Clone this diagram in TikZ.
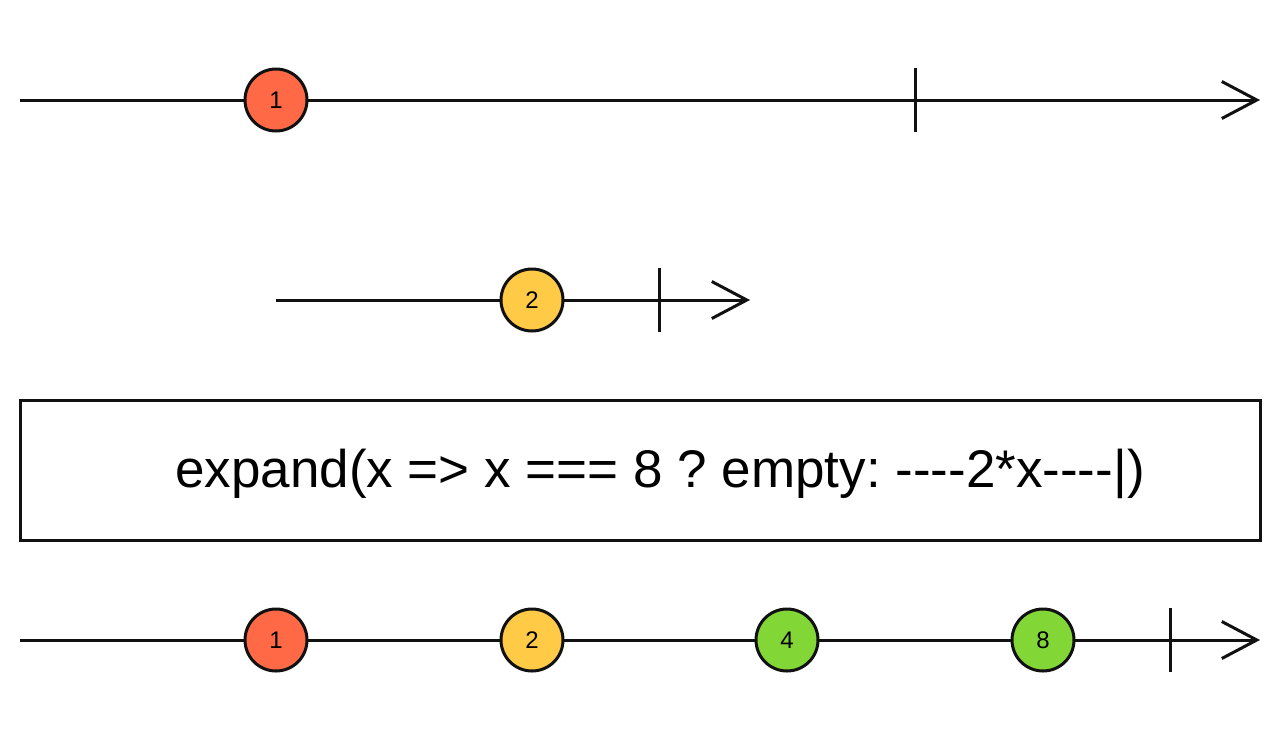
\documentclass[tikz,border=0pt]{standalone}
\usepackage{fontspec}
\setmainfont{Liberation Sans}[Ligatures=TeXOff]
\usetikzlibrary{arrows.meta}
\definecolor{mred}{HTML}{FF6946}
\definecolor{myel}{HTML}{FFCB46}
\definecolor{mgrn}{HTML}{82D736}
\definecolor{ink}{HTML}{111111}
\tikzset{
  timeline/.style={draw=ink, line width=3pt, -{Straight Barb[length=35pt,width=37pt,line width=3pt]}},
  marble/.style={circle, draw=ink, line width=3pt, minimum size=62pt, inner sep=0pt, font=\fontsize{24}{26}\selectfont},
  endmark/.style={draw=ink, line width=3pt},
  opbox/.style={draw=ink, line width=3pt, minimum width=1240pt, minimum height=140pt, inner sep=0pt}
}
\begin{document}
\frenchspacing
\begin{tikzpicture}[x=1pt,y=-1pt]
\useasboundingbox (0,0) rectangle (1280,740);
% line 1
\coordinate (s1) at (20,100);
\coordinate (e1) at (1260,100);
\draw[timeline] (s1) -- (e1);
\coordinate (t1a) at (915,68);
\coordinate (t1b) at (915,132);
\draw[endmark] (t1a) -- (t1b);
\node[marble, fill=mred] (a1) at (276,100) {1};
% line 2
\coordinate (s2) at (276,300);
\coordinate (e2) at (750,300);
\draw[timeline] (s2) -- (e2);
\coordinate (t2a) at (659,268);
\coordinate (t2b) at (659,332);
\draw[endmark] (t2a) -- (t2b);
\node[marble, fill=myel] (b2) at (532,300) {2};
% operator box
\node[opbox] (op) at (640,470) {};
\node[anchor=base, font=\fontsize{53}{58}\selectfont] (optext) at (660,487) {\frenchspacing expand(x => x === 8 ? empty: ----2*x----|)};
% output line
\coordinate (s3) at (20,640);
\coordinate (e3) at (1260,640);
\draw[timeline] (s3) -- (e3);
\coordinate (t3a) at (1170,608);
\coordinate (t3b) at (1170,672);
\draw[endmark] (t3a) -- (t3b);
\node[marble, fill=mred] (c1) at (276,640) {1};
\node[marble, fill=myel] (c2) at (532,640) {2};
\node[marble, fill=mgrn] (c4) at (787,640) {4};
\node[marble, fill=mgrn] (c8) at (1043,640) {8};
\end{tikzpicture}
\end{document}
